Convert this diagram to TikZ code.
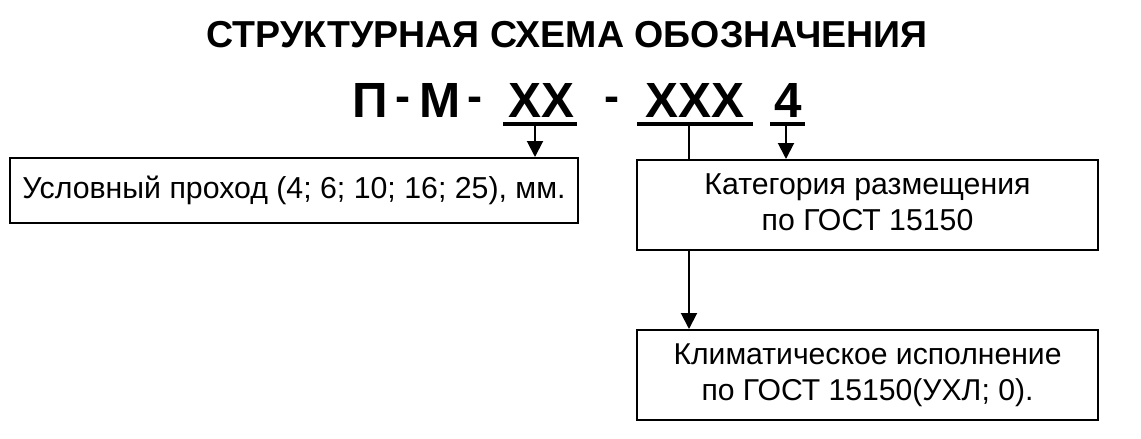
\documentclass[tikz,border=0pt]{standalone}
\usepackage{fontspec}
\usepackage{graphicx}
\setmainfont{Liberation Sans}
\usetikzlibrary{arrows.meta}
\newcommand\codeh[1]{\resizebox{!}{34pt}{\textbf{#1}}}
\newcommand\codedash{\resizebox{15pt}{!}{\textbf{-}}}
\tikzset{every picture/.style={line width=2pt}}
\tikzset{
  codepart/.style={inner sep=0pt},
  infobox/.style={draw,line width=2pt,inner sep=0pt,align=center},
  underbar/.style={line width=4pt},
  pointer/.style={-{Triangle[length=16pt,width=16pt]}}
}
\begin{document}
\begin{tikzpicture}[x=1pt,y=1pt,yscale=-1,xscale=1]
	\useasboundingbox (0,0) rectangle (1141,439);

	% Title
	\node[inner sep=0pt] (title) at (567,35) {\resizebox{721pt}{!}{\textbf{СТРУКТУРНАЯ СХЕМА ОБОЗНАЧЕНИЯ}}};

	% Code parts
	\node[codepart] (pe) at (370,100) {\codeh{П}};
	\node[codepart] (dasha) at (403,104) {\codedash};
	\node[codepart] (em) at (440,100) {\codeh{М}};
	\node[codepart] (dashb) at (475,104) {\codedash};
	\node[codepart] (xx) at (541,100) {\codeh{XX}};
	\node[codepart] (dashc) at (612,104) {\codedash};
	\node[codepart] (xxx) at (695,100) {\codeh{XXX}};
	\node[codepart] (four) at (788,100) {\codeh{4}};

	% Underlines
	\draw[underbar] (503,124) -- (577,124);
	\draw[underbar] (637,124) -- (753,124);
	\draw[underbar] (770,124) -- (805,124);

	% Boxes
	\node[infobox,minimum width=568,minimum height=65] (bore) at (294,190.5) {\resizebox{543pt}{!}{Условный проход (4; 6; 10; 16; 25), мм.}};
	\node[infobox,minimum width=461,minimum height=90] (place) at (867.5,205) {\resizebox{326pt}{!}{\begin{tabular}{@{}c@{}}Категория размещения\\по ГОСТ 15150\end{tabular}}};
	\node[infobox,minimum width=461,minimum height=90] (climate) at (867.5,375) {\resizebox{388pt}{!}{\begin{tabular}{@{}c@{}}Климатическое исполнение\\по ГОСТ 15150(УХЛ; 0).\end{tabular}}};

	% Connectors
	\coordinate (xxfoot) at (535,126);
	\coordinate (xxxfoot) at (689,126);
	\coordinate (fourfoot) at (786,126);
	\draw[pointer] (xxfoot) -- (xxfoot |- bore.north);
	\draw (xxxfoot) -- (xxxfoot |- place.north);
	\draw[pointer] (fourfoot) -- (fourfoot |- place.north);
	\draw[pointer] (xxxfoot |- place.south) -- (xxxfoot |- climate.north);

\end{tikzpicture}
\end{document}
